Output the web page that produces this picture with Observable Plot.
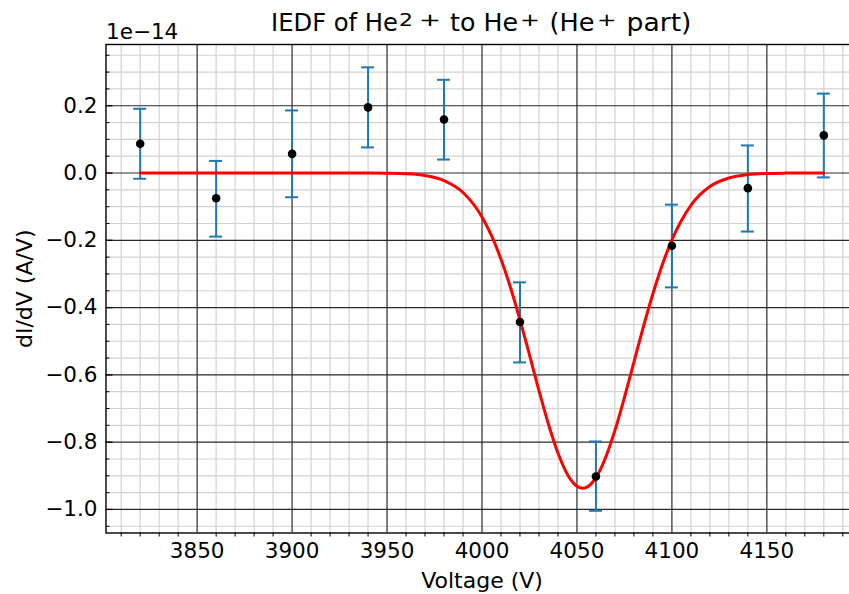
<!DOCTYPE html>
<html>
<head>
<meta charset="utf-8">
<script src="https://cdn.jsdelivr.net/npm/d3@7"></script>
<script src="https://cdn.jsdelivr.net/npm/@observablehq/plot@0.6"></script>
<style>
  html, body { margin: 0; padding: 0; background: white; }
</style>
</head>
<body>
<div id="chart"></div>
<script>
// Measured points (units of 1e-14 A/V)
const voltage = [3820, 3860, 3900, 3940, 3980, 4020, 4060, 4100, 4140, 4180];
const didv    = [0.087, -0.075, 0.057, 0.195, 0.159, -0.443, -0.902, -0.216, -0.045, 0.112];
const errLow  = [-0.017, -0.189, -0.072, 0.076, 0.040, -0.563, -1.004, -0.340, -0.174, -0.013];
const errHigh = [0.191, 0.036, 0.186, 0.314, 0.277, -0.325, -0.798, -0.094, 0.082, 0.236];

// Fitted curve
const fitV = [3820, 3850, 3880, 3910, 3940, 3950, 3960, 3970, 3980, 3990, 4000, 4005, 4010, 4015, 4020, 4025, 4030, 4035, 4040, 4045, 4050, 4053, 4055, 4060, 4065, 4070, 4075, 4080, 4085, 4090, 4095, 4100, 4110, 4120, 4130, 4140, 4150, 4160, 4170, 4180];
const fitY = [0, 0, 0, 0, -0.0001, -0.0006, -0.0022, -0.0075, -0.0223, -0.0579, -0.1306, -0.1862, -0.2562, -0.3403, -0.4366, -0.5406, -0.6465, -0.7466, -0.8322, -0.8959, -0.9311, -0.937, -0.9344, -0.9053, -0.8470, -0.7651, -0.6673, -0.5619, -0.4569, -0.3588, -0.2719, -0.1990, -0.0959, -0.0402, -0.0147, -0.0046, -0.0013, -0.0003, 0, 0];

// Ticks
const xMajor = [3850, 3900, 3950, 4000, 4050, 4100, 4150];
const xMinor = [3810, 3820, 3830, 3840, 3860, 3870, 3880, 3890, 3910, 3920, 3930, 3940, 3960, 3970, 3980, 3990, 4010, 4020, 4030, 4040, 4060, 4070, 4080, 4090, 4110, 4120, 4130, 4140, 4160, 4170, 4180, 4190];
const yMajor = [-1.0, -0.8, -0.6, -0.4, -0.2, 0.0, 0.2];
const yMinor = [-1.05, -0.95, -0.9, -0.85, -0.75, -0.7, -0.65, -0.55, -0.5, -0.45, -0.35, -0.3, -0.25, -0.15, -0.1, -0.05, 0.05, 0.1, 0.15, 0.25, 0.3, 0.35];
const xDomain = [3802, 4198];
const yDomain = [-1.07, 0.382];

// Title pieces: [text, isSuperscript]
const titleParts = [["IEDF of He", false], ["2", true], ["+", true], ["to He", false], ["+", true], ["(He", false], ["+", true], ["part)", false]];
const titleText = "IEDF of He\u00B2\u207A to He\u207A (He\u207A part)";
const offsetText = "1e\u221214";
const xLabel = "Voltage (V)";
const yLabel = "dI/dV (A/V)";

const points = voltage.map((v, i) => ({v, y: didv[i], lo: errLow[i], hi: errHigh[i]}));
const fit = fitV.map((v, i) => ({v, y: fitY[i]}));
const fmtY = d => (Math.abs(d) < 1e-9 ? "0.0" : d.toFixed(1).replace("-", "\u2212"));
const fmtX = d => String(d);

const chart = Plot.plot({
  width: 849,
  height: 594,
  marginLeft: 105.5,
  marginRight: -8.5,
  marginTop: 44,
  marginBottom: 61.5,
  style: {fontFamily: "DejaVu Sans", fontSize: "21.5px", background: "white", color: "black"},
  x: {domain: xDomain},
  y: {domain: yDomain},
  marks: [
    // grid
    Plot.ruleX(xMinor, {stroke: "#d2d2d2", strokeWidth: 1.2}),
    Plot.ruleY(yMinor, {stroke: "#d2d2d2", strokeWidth: 1.2}),
    Plot.ruleX(xMajor, {stroke: "#3a3a3a", strokeWidth: 1.3}),
    Plot.ruleY(yMajor, {stroke: "#2a2a2a", strokeWidth: 1.2}),
    // ticks
    Plot.ruleY(yMajor, {x1: () => xDomain[0], x2: () => xDomain[0], insetLeft: 0, insetRight: -7, stroke: "black", strokeWidth: 1.3}),
    Plot.ruleY(yMinor, {x1: () => xDomain[0], x2: () => xDomain[0], insetLeft: 0, insetRight: -4, stroke: "black", strokeWidth: 1}),
    Plot.ruleX(xMinor, {y1: () => yDomain[0], y2: () => yDomain[0], insetTop: 0, insetBottom: -4, stroke: "black", strokeWidth: 1}),
    Plot.frame({stroke: "black", strokeWidth: 1.4}),
    // axes labels
    Plot.axisX(xMajor, {tickSize: 0, tickPadding: 9.5, label: null, tickFormat: fmtX, fontSize: 21.5}),
    Plot.axisY(yMajor, {tickSize: 0, tickPadding: 8.5, label: null, tickFormat: fmtY, fontSize: 21.5}),
    // error bars
    Plot.ruleX(points, {x: "v", y1: "lo", y2: "hi", stroke: "#1f77b4", strokeWidth: 2}),
    Plot.ruleY(points, {y: "lo", x1: "v", x2: "v", insetLeft: -6.5, insetRight: -6.5, stroke: "#1f77b4", strokeWidth: 2}),
    Plot.ruleY(points, {y: "hi", x1: "v", x2: "v", insetLeft: -6.5, insetRight: -6.5, stroke: "#1f77b4", strokeWidth: 2}),
    // fit
    Plot.line(fit, {x: "v", y: "y", stroke: "red", strokeWidth: 3, curve: "monotone-x"}),
    // data points
    Plot.dot(points, {x: "v", y: "y", r: 4.3, fill: "black", stroke: null}),
    // texts
    Plot.text([titleText], {frameAnchor: "top", lineAnchor: "bottom", dy: -13.5, fontSize: 24, fill: "black"}),
    Plot.text([offsetText], {frameAnchor: "top-left", textAnchor: "start", lineAnchor: "bottom", dy: -6, fontSize: 21.5, fill: "black"}),
    Plot.text([xLabel], {frameAnchor: "bottom", lineAnchor: "bottom", dy: 54.5, fontSize: 22, fill: "black"}),
    Plot.text([yLabel], {frameAnchor: "left", rotate: -90, lineAnchor: "middle", textAnchor: "middle", dx: -81, fontSize: 22, fill: "black"})
  ]
});

// Lay out the title with mathtext-like superscripts: [offset from title centre, advance length]
const titleLayout = [[-211, 127], [-83, 14], [-63, 22], [-32, 68], [38, 20], [67.5, 45], [115, 19.5], [144.5, 65]];
const svgNS = "http://www.w3.org/2000/svg";
d3.select(chart).selectAll("text").filter(function() { return this.textContent === titleText; }).each(function() {
  const parent = this.parentNode;
  const tr = this.getAttribute("transform");
  titleParts.forEach(([s, sup], i) => {
    const el = document.createElementNS(svgNS, "text");
    if (tr) el.setAttribute("transform", tr);
    el.setAttribute("x", titleLayout[i][0]);
    el.setAttribute("y", sup ? -5.5 : 0);
    el.setAttribute("font-size", sup ? 17.5 : 24);
    el.setAttribute("text-anchor", "start");
    el.setAttribute("fill", "black");
    el.setAttribute("textLength", titleLayout[i][1]);
    el.setAttribute("lengthAdjust", "spacingAndGlyphs");
    el.textContent = s;
    parent.appendChild(el);
  });
  parent.removeChild(this);
});

document.getElementById("chart").appendChild(chart);
</script>
</body>
</html>
